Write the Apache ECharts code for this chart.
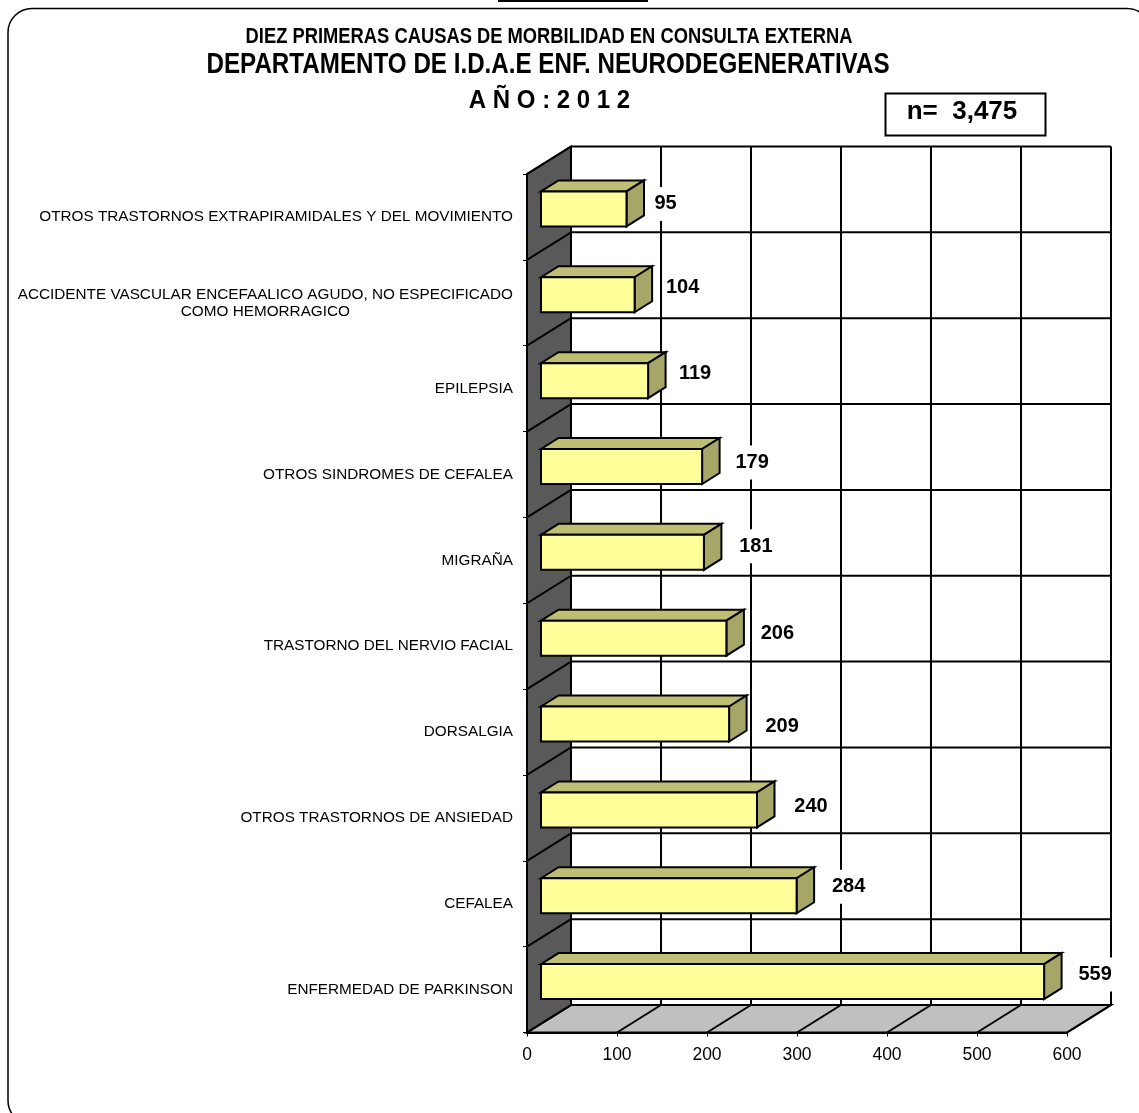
<!DOCTYPE html>
<html>
<head>
<meta charset="utf-8">
<script src="https://cdn.jsdelivr.net/npm/echarts@6/dist/echarts.min.js"></script>
<style>
html, body { margin: 0; padding: 0; background: #fff; }
#chart { width: 1139px; height: 1113px; }
</style>
</head>
<body>
<div id="chart"></div>
<script>
var categories = [
    'OTROS TRASTORNOS EXTRAPIRAMIDALES Y DEL MOVIMIENTO',
    'ACCIDENTE VASCULAR ENCEFAALICO AGUDO, NO ESPECIFICADO\nCOMO HEMORRAGICO',
    'EPILEPSIA',
    'OTROS SINDROMES DE CEFALEA',
    'MIGRAÑA',
    'TRASTORNO DEL NERVIO FACIAL',
    'DORSALGIA',
    'OTROS TRASTORNOS DE ANSIEDAD',
    'CEFALEA',
    'ENFERMEDAD DE PARKINSON'
];
var values = [95, 104, 119, 179, 181, 206, 209, 240, 284, 559];
var xTicks = [0, 100, 200, 300, 400, 500, 600];

var titleLines = [
    'DIEZ PRIMERAS CAUSAS DE MORBILIDAD EN CONSULTA EXTERNA',
    'DEPARTAMENTO DE I.D.A.E ENF. NEURODEGENERATIVAS',
    'A Ñ O : 2 0 1 2'
];
var totalText = 'n=  3,475';

// 3d look of the old chart: how far the back wall sits from the front plane
var WALL_DX = 44, WALL_DY = -27.5;
var BAR_SHIFT_X = 14, BAR_SHIFT_Y = -8, BAR_H = 35, BAR_DX = 17.5, BAR_DY = -11;
// labels were dragged by hand in the original, so each one has its own nudge
var labelNudge = [[39, -13], [48, -15], [47, -15], [50, -12], [52, -14],
    [51, -13], [53, -6], [54, -11], [52, -17], [51, -15]];

var chart = echarts.init(document.getElementById('chart'));

function band(api, i) {
    var c = api.coord([0, i]);
    var h = api.size([0, 1])[1];
    return { top: c[1] - h / 2, bottom: c[1] + h / 2 };
}

function line(x1, y1, x2, y2, width) {
    return {
        type: 'line',
        shape: { x1: x1, y1: y1, x2: x2, y2: y2 },
        style: { stroke: '#000', lineWidth: width || 2 }
    };
}

function poly(points, fill, width) {
    return {
        type: 'polygon',
        shape: { points: points },
        style: { fill: fill, stroke: '#000', lineWidth: width || 2, lineJoin: 'miter' }
    };
}

function renderFrame(params, api) {
    var kids = [];
    var x0 = api.coord([0, 0])[0];
    var x1 = api.coord([xTicks[xTicks.length - 1], 0])[0];
    var top = band(api, 0).top;
    var bottom = band(api, categories.length - 1).bottom;

    // floor and dark side wall
    kids.push(poly([[x0, bottom], [x0 + WALL_DX, bottom + WALL_DY], [x1 + WALL_DX, bottom + WALL_DY], [x1, bottom]], '#c0c0c0'));
    kids.push(poly([[x0, top], [x0 + WALL_DX, top + WALL_DY], [x0 + WALL_DX, bottom + WALL_DY], [x0, bottom]], '#595959'));

    // gridlines on the back wall, carried over the floor and the side wall
    xTicks.forEach(function (t) {
        var x = api.coord([t, 0])[0];
        kids.push(line(x + WALL_DX, top + WALL_DY, x + WALL_DX, bottom + WALL_DY));
        kids.push(line(x, bottom, x + WALL_DX, bottom + WALL_DY));
    });
    categories.forEach(function (c, i) {
        var y = band(api, i).top;
        kids.push(line(x0, y, x0 + WALL_DX, y + WALL_DY));
        kids.push(line(x0 + WALL_DX, y + WALL_DY, x1 + WALL_DX, y + WALL_DY));
    });
    return { type: 'group', children: kids };
}

function renderBar(params, api) {
    var i = api.value(1);
    var start = api.coord([0, i]);
    var end = api.coord([api.value(0), i]);
    var xa = start[0] + BAR_SHIFT_X;
    var xb = end[0] + BAR_SHIFT_X;
    var yt = start[1] + BAR_SHIFT_Y - BAR_H / 2;
    var yb = yt + BAR_H;
    var nudge = labelNudge[i];
    return {
        type: 'group',
        children: [
            poly([[xa, yt], [xa + BAR_DX, yt + BAR_DY], [xb + BAR_DX, yt + BAR_DY], [xb, yt]], '#bfbf73'),
            poly([[xb, yt], [xb + BAR_DX, yt + BAR_DY], [xb + BAR_DX, yb + BAR_DY], [xb, yb]], '#a6a666'),
            poly([[xa, yt], [xb, yt], [xb, yb], [xa, yb]], '#ffff99'),
            {
                type: 'text',
                z2: 10,
                style: {
                    text: String(api.value(0)),
                    x: xb + nudge[0],
                    y: start[1] + nudge[1],
                    align: 'center',
                    verticalAlign: 'middle',
                    fontFamily: 'Liberation Sans',
                    fontWeight: 'bold',
                    fontSize: 20,
                    fill: '#000',
                    backgroundColor: '#fff',
                    padding: [7, 3]
                }
            }
        ]
    };
}

// Arial Narrow of the original is not available, so squeeze the bold titles
function squeezedText(text, x, y, size, squeeze) {
    return {
        type: 'text',
        x: x,
        y: y,
        scaleX: squeeze,
        style: {
            text: text,
            x: 0,
            y: 0,
            align: 'center',
            verticalAlign: 'middle',
            fontFamily: 'Liberation Sans',
            fontWeight: 'bold',
            fontSize: size,
            fill: '#000'
        }
    };
}

chart.setOption({
    animation: false,
    backgroundColor: '#fff',
    grid: { left: 527, top: 174, width: 540, height: 858.5, containLabel: false },
    xAxis: {
        type: 'value',
        min: 0,
        max: 600,
        interval: 100,
        z: 5,
        splitLine: { show: false },
        axisLine: { show: true, lineStyle: { color: '#000', width: 2 } },
        axisTick: { show: true, length: 4, lineStyle: { color: '#000', width: 1 } },
        axisLabel: { margin: 14, color: '#000', fontFamily: 'Liberation Sans', fontSize: 17.5 }
    },
    yAxis: {
        type: 'category',
        inverse: true,
        data: categories,
        z: 5,
        splitLine: { show: false },
        axisLine: { show: true, lineStyle: { color: '#000', width: 2 } },
        axisTick: { show: true, length: 4, lineStyle: { color: '#000', width: 1 } },
        axisLabel: {
            interval: 0,
            margin: 14,
            color: '#000',
            fontFamily: 'Liberation Sans',
            fontSize: 15.3,
            lineHeight: 17,
            formatter: function (v) {
                return v.split('\n').map(function (s) { return '{c|' + s + '}'; }).join('\n');
            },
            rich: { c: { align: 'center', color: '#000', fontFamily: 'Liberation Sans', fontSize: 15.3, lineHeight: 17 } }
        }
    },
    series: [
        {
            type: 'custom',
            z: 2,
            silent: true,
            clip: false,
            renderItem: renderFrame,
            data: [[0, 0]],
            encode: { x: 0, y: 1 }
        },
        {
            type: 'custom',
            z: 3,
            silent: true,
            clip: false,
            renderItem: renderBar,
            data: values.map(function (v, i) { return [v, i]; }),
            encode: { x: 0, y: 1 }
        }
    ],
    graphic: [
        { type: 'rect', z: -1, shape: { x: 8, y: 8.5, width: 1143, height: 1116, r: 24 },
          style: { fill: 'none', stroke: '#000', lineWidth: 1.5 } },
        { type: 'rect', shape: { x: 498, y: 0, width: 150, height: 2 }, style: { fill: '#000' } },
        squeezedText(titleLines[0], 549, 37, 22, 0.834),
        squeezedText(titleLines[1], 548, 65, 29, 0.834),
        squeezedText(titleLines[2], 549.5, 101.5, 25, 0.96),
        { type: 'rect', shape: { x: 885.5, y: 93.5, width: 160, height: 42 }, style: { fill: '#fff', stroke: '#000', lineWidth: 2 } },
        { type: 'text', style: { text: totalText, x: 962, y: 112, align: 'center', verticalAlign: 'middle', fontFamily: 'Liberation Sans', fontWeight: 'bold', fontSize: 26, fill: '#000' } }
    ]
});
</script>
</body>
</html>
